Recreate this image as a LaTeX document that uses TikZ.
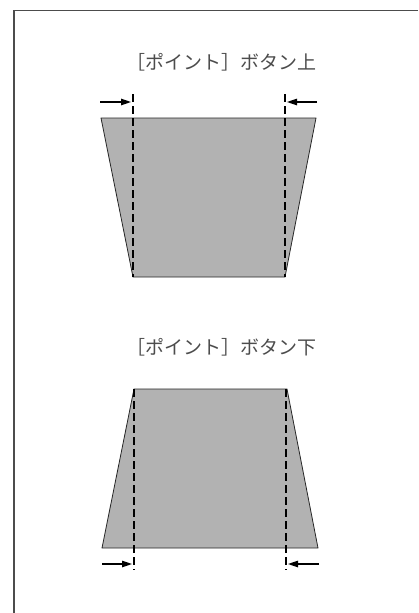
\documentclass[tikz,border=0pt]{standalone}
\usepackage{fontspec}
\newfontfamily\jpfont{Noto Sans CJK JP}
\usetikzlibrary{arrows.meta,positioning}

\begin{document}
\begin{tikzpicture}[x=1pt,y=-1pt,
  frame/.style={draw=black!70,line width=1.5pt},
  panel/.style={draw=black!85,fill=black!30,line width=0.8pt},
  guide/.style={draw=black,dash pattern=on 8pt off 4pt,line width=1.1pt},
  caption/.style={font=\jpfont\fontsize{19}{23}\selectfont,text=black!70},
  arrow/.style={-{Triangle[length=10pt,width=6.5pt]},line width=1.2pt}
]
\useasboundingbox (0,0) rectangle (418,613);
\draw[frame] (418,10.5) -- (14,10.5) -- (14,613);

% upper panel
\node[caption] (uptext) at (221,62) {［ポイント］ボタン上};
\filldraw[panel] (101,118) -- (316,118) -- (285,277) -- (133,277) -- cycle;
\coordinate (ulA) at (133,94);  \coordinate (ulB) at (133,277);
\coordinate (urA) at (285,94);  \coordinate (urB) at (285,277);
\coordinate (ularr) at (100,102); \coordinate (urarr) at (317,102);
\draw[guide] (ulA) -- (ulB);
\draw[guide] (urA) -- (urB);
\draw[arrow] (ularr) -- ([xshift=-2pt]ulA |- ularr);
\draw[arrow] (urarr) -- ([xshift=2pt]urA |- urarr);

% lower panel
\node[caption] (lotext) at (221,347) {［ポイント］ボタン下};
\filldraw[panel] (134,389) -- (287,389) -- (318,548) -- (102,548) -- cycle;
\coordinate (llA) at (134,389); \coordinate (llB) at (134,570);
\coordinate (lrA) at (286,389); \coordinate (lrB) at (286,570);
\coordinate (llarr) at (102,564); \coordinate (lrarr) at (319,564);
\draw[guide] (llA) -- (llB);
\draw[guide] (lrA) -- (lrB);
\draw[arrow] (llarr) -- ([xshift=-2pt]llA |- llarr);
\draw[arrow] (lrarr) -- ([xshift=2pt]lrA |- lrarr);
\end{tikzpicture}
\end{document}
